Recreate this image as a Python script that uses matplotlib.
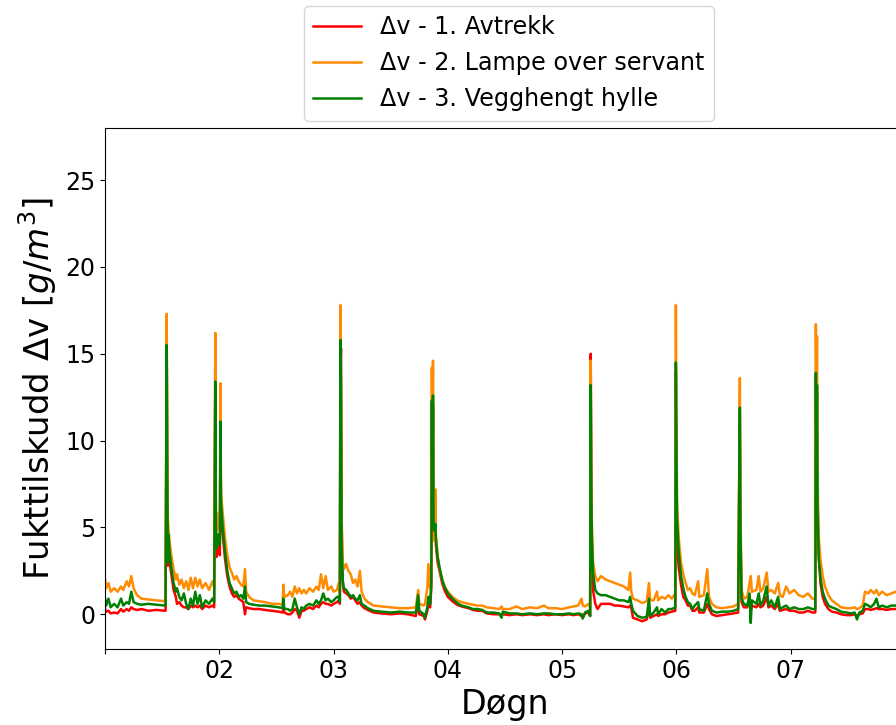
import matplotlib
matplotlib.use("Agg")
import matplotlib.pyplot as plt

# Shared time axis (day of month)
t = [1.000, 1.010, 1.030, 1.050, 1.080, 1.110, 1.140, 1.160, 1.190, 1.210, 1.230, 1.250, 1.280, 1.320,
     1.380, 1.450, 1.530, 1.540, 1.545, 1.550, 1.555, 1.565, 1.580, 1.600, 1.620, 1.630, 1.650, 1.670,
     1.690, 1.710, 1.730, 1.750, 1.770, 1.790, 1.810, 1.830, 1.850, 1.880, 1.910, 1.940, 1.955, 1.965,
     1.970, 1.975, 1.985, 1.995, 2.005, 2.010, 2.015, 2.030, 2.050, 2.070, 2.090, 2.110, 2.130, 2.150,
     2.170, 2.190, 2.210, 2.225, 2.235, 2.260, 2.300, 2.350, 2.400, 2.460, 2.520, 2.555, 2.560, 2.570,
     2.600, 2.620, 2.640, 2.660, 2.680, 2.700, 2.720, 2.740, 2.760, 2.790, 2.820, 2.850, 2.870, 2.890,
     2.910, 2.930, 2.950, 2.980, 3.000, 3.030, 3.045, 3.055, 3.060, 3.065, 3.070, 3.080, 3.090, 3.110,
     3.130, 3.150, 3.170, 3.190, 3.210, 3.230, 3.245, 3.270, 3.300, 3.350, 3.420, 3.500, 3.580, 3.650,
     3.720, 3.740, 3.750, 3.790, 3.800, 3.820, 3.830, 3.845, 3.855, 3.860, 3.865, 3.870, 3.875, 3.885,
     3.890, 3.895, 3.910, 3.930, 3.950, 3.970, 4.000, 4.040, 4.080, 4.120, 4.180, 4.220, 4.260, 4.300,
     4.340, 4.400, 4.450, 4.470, 4.480, 4.540, 4.600, 4.650, 4.720, 4.780, 4.840, 4.880, 4.940, 5.000,
     5.060, 5.100, 5.140, 5.170, 5.180, 5.200, 5.230, 5.245, 5.250, 5.255, 5.260, 5.270, 5.290, 5.310,
     5.340, 5.380, 5.420, 5.460, 5.500, 5.540, 5.580, 5.595, 5.605, 5.620, 5.660, 5.700, 5.740, 5.760,
     5.770, 5.800, 5.830, 5.840, 5.870, 5.900, 5.930, 5.960, 5.990, 5.995, 6.000, 6.005, 6.020, 6.040,
     6.060, 6.080, 6.100, 6.120, 6.140, 6.160, 6.190, 6.200, 6.240, 6.270, 6.285, 6.310, 6.350, 6.400,
     6.450, 6.500, 6.540, 6.555, 6.560, 6.570, 6.590, 6.620, 6.640, 6.650, 6.660, 6.700, 6.720, 6.735,
     6.760, 6.790, 6.805, 6.830, 6.860, 6.890, 6.905, 6.930, 6.960, 6.990, 7.030, 7.070, 7.110, 7.150,
     7.190, 7.215, 7.220, 7.225, 7.230, 7.235, 7.245, 7.260, 7.280, 7.300, 7.330, 7.360, 7.400, 7.440,
     7.490, 7.530, 7.560, 7.580, 7.600, 7.630, 7.650, 7.680, 7.700, 7.730, 7.750, 7.770, 7.800, 7.840,
     7.880, 7.920, 7.950, 8.000]

# Δv - 2. Lampe over servant
v_lampe = [2.0, 1.5, 1.8, 1.3, 1.5, 1.3, 1.6, 1.4, 1.9, 1.6, 2.2, 1.5, 1.1, 0.9,
           0.85, 0.8, 0.75, 17.3, 9.0, 5.5, 5.0, 4.2, 3.4, 2.6, 2.0, 2.3, 1.7, 2.0,
           1.5, 1.9, 1.4, 2.1, 1.5, 2.1, 1.6, 2.0, 1.5, 1.8, 1.4, 1.9, 1.6, 16.2,
           6.5, 4.8, 5.8, 5.2, 4.9, 13.3, 7.0, 5.8, 4.4, 3.4, 2.7, 2.4, 2.0, 2.2,
           1.9, 1.7, 1.6, 2.6, 1.3, 1.0, 0.8, 0.75, 0.7, 0.6, 0.6, 0.55, 1.7, 1.0,
           1.1, 1.3, 1.0, 1.6, 1.2, 1.5, 1.2, 1.4, 1.2, 1.5, 1.3, 1.6, 1.4, 2.3,
           1.5, 2.2, 1.4, 1.6, 1.3, 1.4, 1.8, 1.3, 17.8, 12.0, 5.0, 3.0, 2.6, 2.9,
           2.5, 2.3, 1.8, 2.0, 1.6, 2.5, 1.3, 0.9, 0.7, 0.5, 0.45, 0.4, 0.35, 0.35,
           0.4, 1.4, 0.6, 0.5, 0.6, 1.5, 2.9, 1.5, 2.6, 14.2, 9.0, 14.6, 6.0, 4.2,
           7.2, 4.5, 3.4, 2.5, 2.0, 1.6, 1.3, 1.0, 0.8, 0.7, 0.6, 0.55, 0.5, 0.5,
           0.4, 0.35, 0.3, 0.45, 0.3, 0.3, 0.45, 0.3, 0.4, 0.35, 0.5, 0.35, 0.35, 0.3,
           0.4, 0.45, 0.5, 0.9, 0.5, 0.45, 0.6, 0.4, 14.6, 8.0, 5.2, 3.0, 2.2, 1.9,
           2.2, 2.0, 1.9, 1.8, 1.7, 1.6, 1.4, 2.4, 1.3, 0.9, 0.8, 0.65, 0.75, 1.8,
           0.8, 0.8, 1.3, 0.8, 1.0, 0.9, 1.1, 0.9, 1.2, 17.8, 11.0, 6.5, 4.4, 3.0,
           2.3, 1.8, 1.4, 1.5, 1.2, 1.1, 1.9, 1.0, 1.1, 2.6, 1.0, 0.6, 0.4, 0.35,
           0.4, 0.45, 0.6, 13.6, 6.0, 1.4, 0.9, 1.0, 1.8, 2.2, 1.3, 1.4, 2.2, 1.3,
           1.5, 2.4, 1.3, 1.4, 1.2, 1.8, 1.1, 1.0, 1.6, 1.2, 1.4, 1.1, 1.0, 1.2,
           0.9, 0.9, 16.7, 11.0, 16.0, 8.0, 4.5, 3.2, 2.2, 1.6, 1.1, 0.8, 0.6, 0.4,
           0.35, 0.35, 0.4, 0.3, 0.35, 0.5, 1.3, 1.2, 1.4, 1.2, 1.4, 1.1, 1.3, 1.1,
           1.2, 1.3, 1.1, 1.6]

# Δv - 3. Vegghengt hylle
v_hylle = [0.9, 0.5, 0.9, 0.4, 0.6, 0.4, 0.9, 0.5, 0.7, 0.6, 1.3, 0.7, 0.6, 0.55,
           0.6, 0.55, 0.5, 15.5, 8.0, 3.0, 4.6, 3.6, 2.7, 1.8, 1.3, 1.5, 1.0, 0.8,
           1.2, 0.6, 0.3, 0.9, 0.5, 1.3, 0.6, 1.1, 0.4, 0.8, 0.6, 0.9, 0.7, 13.4,
           5.0, 3.8, 4.6, 4.2, 4.0, 11.1, 6.5, 5.0, 3.6, 2.5, 1.8, 1.5, 1.2, 1.3,
           1.0, 1.1, 0.9, 1.6, 0.7, 0.6, 0.55, 0.5, 0.5, 0.45, 0.4, 0.35, 0.9, 0.3,
           0.3, 0.2, 0.3, 0.9, 0.4, 0.0, 0.4, 0.3, 0.5, 0.6, 0.5, 0.8, 0.6, 0.8,
           1.2, 0.8, 0.9, 0.7, 0.8, 1.0, 1.0, 0.7, 15.8, 13.0, 4.0, 2.0, 1.5, 1.4,
           1.2, 1.0, 1.1, 0.9, 0.8, 1.1, 0.6, 0.5, 0.35, 0.2, 0.15, 0.1, 0.15, 0.1,
           0.1, 1.1, 0.2, 0.0, -0.2, 0.4, 1.0, 0.6, 1.8, 12.3, 6.0, 12.6, 5.0, 4.8,
           5.2, 4.4, 3.3, 2.6, 2.0, 1.6, 1.2, 0.9, 0.65, 0.5, 0.4, 0.3, 0.3, 0.25,
           0.1, 0.1, 0.05, -0.2, 0.15, 0.05, 0.05, 0.0, 0.05, 0.0, 0.05, 0.05, 0.0, 0.0,
           0.05, 0.0, 0.05, 0.0, -0.25, 0.1, 0.2, -0.1, 13.2, 7.0, 4.6, 2.4, 1.4, 1.2,
           1.1, 1.1, 1.0, 0.9, 0.8, 0.8, 0.7, 1.0, 0.6, 0.2, -0.1, -0.2, -0.15, 0.9,
           -0.1, 0.1, 0.4, 0.0, 0.3, 0.1, 0.3, 0.3, 0.4, 14.5, 10.0, 5.5, 3.6, 2.2,
           1.5, 1.0, 0.7, 0.6, 0.3, 0.5, 0.7, 0.3, 0.2, 1.2, 0.6, 0.2, 0.1, 0.15,
           0.15, 0.2, 0.3, 11.9, 5.0, 0.9, 0.6, 0.5, 1.2, -0.5, 0.8, 0.6, 1.2, 0.5,
           0.8, 1.6, 0.5, 0.8, 0.4, 1.0, 0.3, 0.4, 0.5, 0.3, 0.4, 0.3, 0.3, 0.4,
           0.3, 0.3, 13.9, 9.0, 13.2, 6.0, 3.2, 2.1, 1.3, 0.9, 0.5, 0.4, 0.3, 0.15,
           0.1, 0.05, 0.1, -0.3, 0.1, 0.2, 0.6, 0.5, 0.4, 0.6, 0.9, 0.4, 0.5, 0.4,
           0.5, 0.5, 0.4, 0.6]

# Δv - 1. Avtrekk
v_avtrekk = [0.3, 0.15, 0.2, 0.05, 0.1, 0.05, 0.3, 0.15, 0.3, 0.2, 0.4, 0.3, 0.25, 0.3,
             0.2, 0.25, 0.2, 15.0, 7.5, 2.8, 4.0, 3.0, 2.3, 1.4, 1.0, 0.6, 0.7, 0.5,
             0.4, 0.4, 0.3, 0.5, 0.4, 0.5, 0.4, 0.5, 0.3, 0.5, 0.4, 0.5, 0.4, 13.0,
             4.5, 3.3, 4.0, 3.6, 3.4, 10.5, 6.0, 4.6, 3.2, 2.2, 1.6, 1.2, 1.0, 1.1,
             0.9, 0.8, 0.7, 0.0, 0.4, 0.35, 0.3, 0.3, 0.25, 0.2, 0.15, 0.1, 0.3, 0.1,
             0.0, 0.0, 0.1, 0.3, 0.2, -0.2, 0.2, 0.2, 0.3, 0.4, 0.3, 0.5, 0.4, 0.6,
             0.7, 0.6, 0.6, 0.5, 0.6, 0.7, 0.8, 0.6, 14.0, 15.3, 6.0, 1.8, 1.3, 1.2,
             1.1, 0.9, 1.0, 0.8, 0.6, 0.7, 0.5, 0.35, 0.25, 0.1, 0.05, 0.0, 0.05, 0.0,
             -0.1, 0.8, 0.0, -0.1, -0.3, 0.2, 0.6, 0.4, 1.5, 11.8, 5.5, 12.0, 4.6, 4.4,
             4.8, 4.0, 3.0, 2.4, 1.8, 1.4, 1.0, 0.75, 0.55, 0.45, 0.35, 0.25, 0.2, 0.2,
             0.05, 0.0, 0.0, -0.1, 0.0, -0.05, 0.0, -0.05, 0.0, -0.05, 0.0, -0.05, 0.0, -0.05,
             0.0, -0.05, 0.0, -0.1, -0.2, 0.05, 0.1, -0.1, 15.0, 8.0, 3.6, 1.4, 0.6, 0.3,
             0.6, 0.6, 0.6, 0.5, 0.5, 0.45, 0.4, 0.5, 0.35, -0.2, -0.3, -0.4, -0.3, 0.5,
             -0.2, -0.1, 0.0, -0.1, 0.0, 0.0, 0.1, 0.15, 0.2, 14.0, 7.5, 4.0, 2.7, 1.7,
             1.0, 0.8, 0.5, 0.5, 0.2, 0.2, 0.4, 0.1, 0.1, 0.6, 0.3, 0.0, -0.1, -0.05,
             0.0, 0.05, 0.1, 11.5, 4.5, 0.7, 0.4, 0.4, 0.9, 0.2, 0.5, 0.4, 0.6, 0.4,
             0.5, 1.0, 0.4, 0.5, 0.3, 0.6, 0.2, 0.25, 0.3, 0.2, 0.2, 0.1, 0.1, 0.2,
             0.1, 0.1, 13.5, 8.5, 12.8, 6.5, 3.6, 1.8, 1.0, 0.6, 0.3, 0.15, 0.1, 0.0,
             -0.05, -0.05, 0.0, -0.1, 0.0, 0.05, 0.3, 0.3, 0.25, 0.3, 0.35, 0.3, 0.3, 0.25,
             0.3, 0.3, 0.25, 0.3]

labels = ["Δv - 1. Avtrekk", "Δv - 2. Lampe over servant", "Δv - 3. Vegghengt hylle"]
colors = ["red", "darkorange", "green"]

x_ticks = [1, 2, 3, 4, 5, 6, 7]
x_ticklabels = ["", "02", "03", "04", "05", "06", "07"]
y_ticks = [0, 5, 10, 15, 20, 25]

fig = plt.figure(figsize=(8.96, 7.25), dpi=100)
ax = fig.add_axes([105 / 896, 1 - 649 / 725, 800 / 896, (649 - 128) / 725])

for vals, lab, col in zip([v_avtrekk, v_lampe, v_hylle], labels, colors):
    ax.plot(t, vals, color=col, lw=1.8, label=lab)

ax.set_xlim(1, 8)
ax.set_ylim(-2, 28)
ax.set_xticks(x_ticks)
ax.set_xticklabels(x_ticklabels)
ax.set_yticks(y_ticks)
ax.tick_params(axis="both", labelsize=17)
ax.set_xlabel("Døgn", fontsize=24)
ax.set_ylabel(r"Fukttilskudd Δv [$g/m^3$]", fontsize=24.5)

ax.legend(loc="lower center", bbox_to_anchor=(0.505, 1.0), fontsize=17.2,
          borderaxespad=0.3)

fig.savefig("out.png", dpi=100)
